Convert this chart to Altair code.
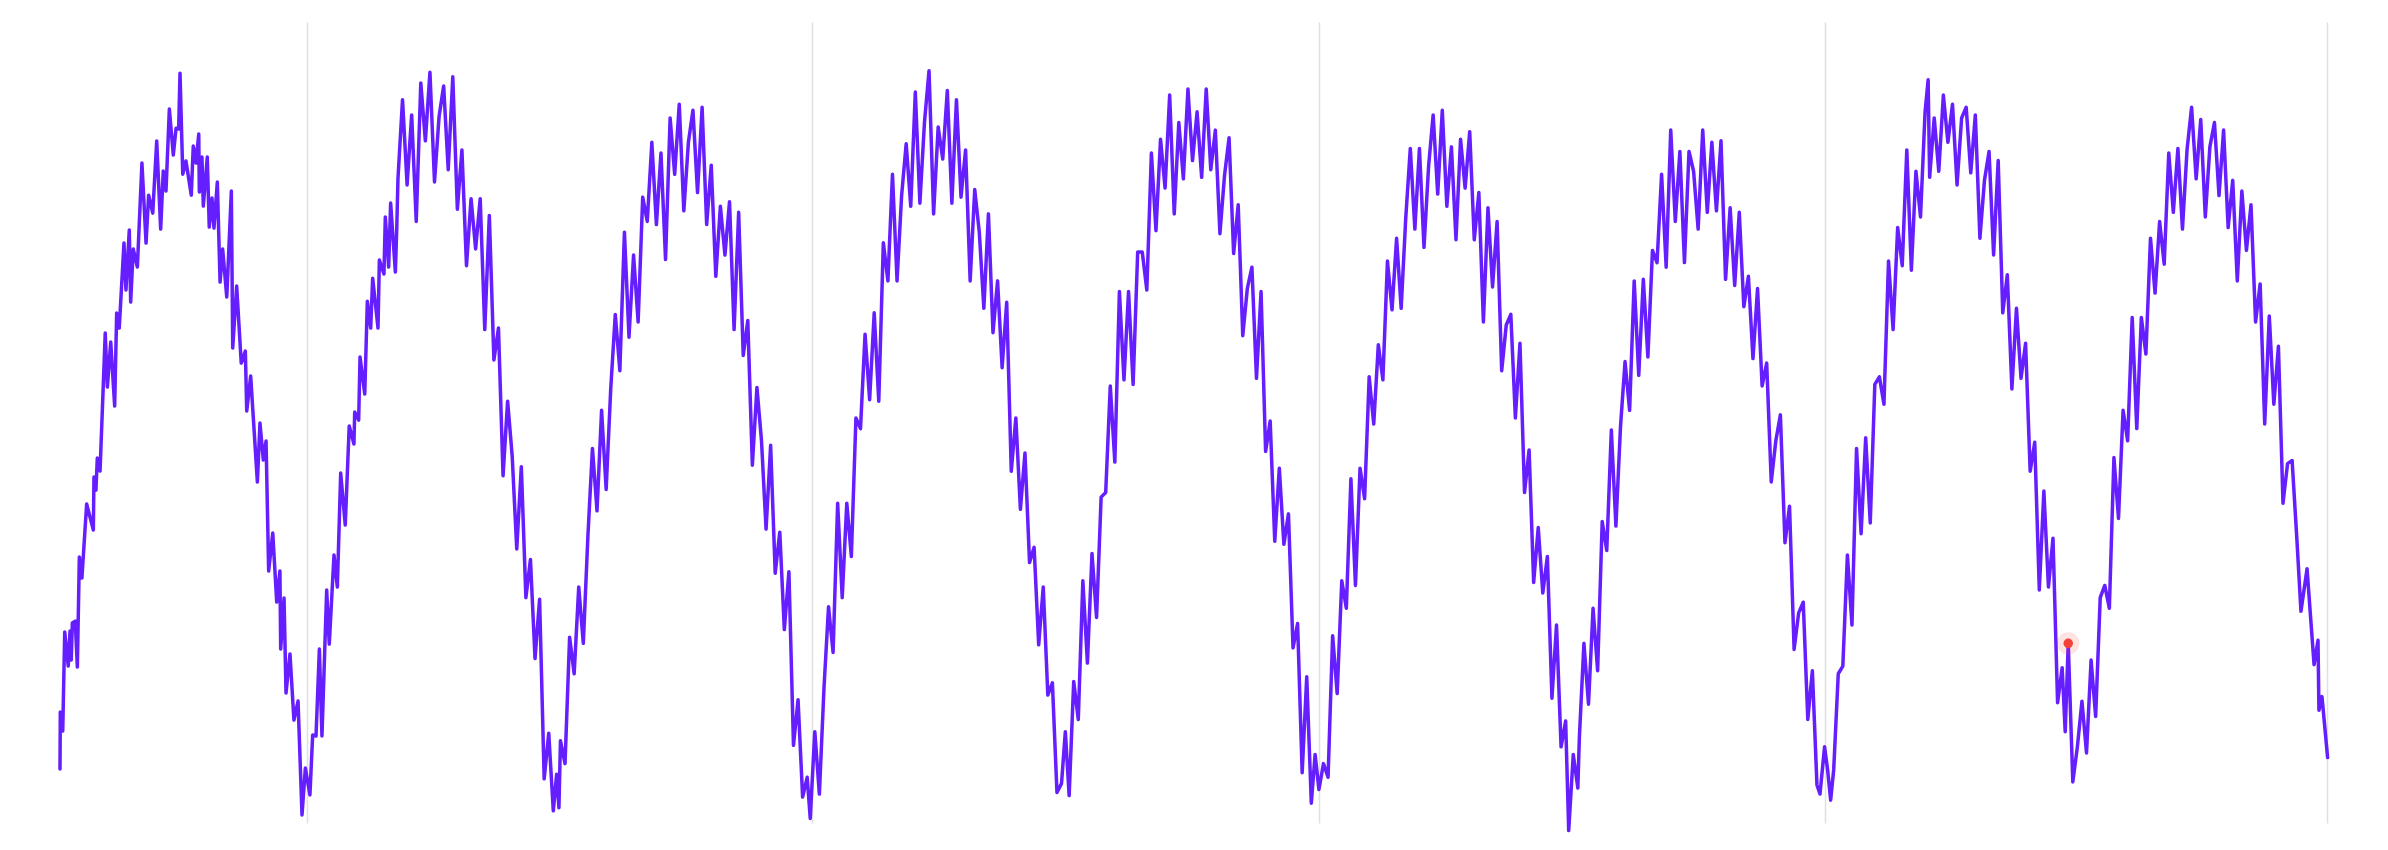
import altair as alt
import pandas as pd

# first cycle, read at full resolution: position t and value v
t_first = [39.4, 39.6, 41.2, 42.5, 44.8, 46.0, 46.8, 47.5, 49.4, 50.8, 52.1, 53.8, 56.9, 61.3, 61.7, 63.0,
           63.9, 65.7, 69.1, 70.5, 72.7, 75.3, 76.6, 78.3, 81.4, 82.7, 84.9, 85.8, 87.5, 90.2, 93.2, 95.9,
           97.6, 100.3, 102.9, 105.5, 107.2, 109.0, 111.2, 113.8, 115.6, 117.3, 118.2, 120.0, 122.1, 125.6,
           126.9, 128.7, 130.5, 130.9, 132.6, 133.5, 136.1, 137.4, 139.2, 140.5, 142.7, 144.5, 146.2, 148.9,
           151.9, 152.8, 155.4, 158.4, 161.1, 162.0, 164.6, 169.0, 170.7, 172.9, 174.7, 176.4, 179.1, 181.7,
           183.8, 184.3, 186.5, 187.8, 190.4, 193.0, 195.7, 198.3, 200.5, 203.5, 205.3, 207.5, 209.7, 211.4,
           214.5, 216.2, 219.3, 221.5, 223.7, 226.7, 229.3, 232.4, 232.9, 235.5, 236.4, 239.5, 241.2, 243.4,
           244.7, 248.2, 249.1, 252.1, 253.0, 255.2, 256.5, 259.6, 260.5]
v_first = [35.5, 72.9, 60.4, 125.4, 103.1, 126.1, 107.0, 131.3, 132.6, 102.4, 174.7, 160.9, 209.5, 192.4,
           227.2, 218.6, 239.7, 231.1, 321.7, 286.3, 315.8, 273.8, 334.9, 325.0, 380.8, 350.0, 389.4, 342.1,
           376.9, 365.1, 433.4, 380.8, 412.3, 400.5, 447.8, 390.0, 428.1, 415.0, 468.8, 438.6, 456.3, 455.7,
           492.4, 426.1, 434.7, 412.3, 444.5, 433.4, 452.4, 414.3, 437.3, 405.1, 437.3, 391.3, 410.4, 390.7,
           420.9, 355.2, 376.9, 345.4, 415.0, 311.9, 352.6, 302.0, 309.9, 270.5, 293.5, 223.9, 262.6, 238.3,
           250.8, 165.5, 190.4, 145.1, 165.5, 114.2, 147.7, 85.4, 111.0, 67.6, 80.1, 5.3, 36.1, 18.4, 57.8,
           57.1, 114.2, 57.1, 153.0, 117.5, 176.0, 155.0, 229.8, 195.7, 260.7, 248.9, 269.9, 264.6, 306.0,
           281.7, 342.7, 325.0, 357.8, 325.0, 369.7, 360.5, 397.9, 365.1, 407.1, 361.8, 390.0]

# later cycles as (t, v) pairs
cycle2 = [(261.3, 423), (264.3, 475), (267.3, 419), (270.3, 465), (273.3, 395), (276.3, 486), (279.3, 448),
          (282.3, 493), (285.3, 421), (288.3, 464), (291.3, 484), (294.3, 429), (297.3, 490), (300.3, 403),
          (303.3, 442), (306.3, 366), (309.3, 410), (312.3, 377), (315.3, 410), (318.3, 324), (321.3, 399),
          (324.3, 304), (327.3, 325), (330.3, 228), (333.3, 277), (336.3, 241), (339.3, 180), (342.3, 234),
          (345.3, 148), (348.3, 173), (351.3, 108), (354.3, 147), (357.3, 29), (360.3, 59), (363.3, 8),
          (365.5, 32), (367, 10)]
cycle3 = [(368, 54), (371, 39), (374, 122), (377, 98), (380, 155), (383, 118), (386, 188), (389, 246),
          (392, 205), (395, 271), (398, 219), (401, 285), (404, 334), (407, 297), (410, 388), (413, 319),
          (416, 373), (419, 329), (422, 411), (425, 395), (428, 447), (431, 393), (434, 440), (437, 370),
          (440, 463), (443, 426), (446, 472), (449, 402), (452, 447), (455, 468), (458, 414), (461, 470),
          (464, 393), (467, 432), (470, 359), (473, 405), (476, 373), (479, 408), (482, 324), (485, 401),
          (488, 307), (491, 330), (494, 235), (497, 286), (500, 251), (503, 193), (506, 248), (509, 164),
          (512, 191), (515, 127), (518, 165), (521, 51), (524, 81), (527, 17), (530, 30), (532, 3)]
cycle4 = [(535, 60), (538, 19), (541, 88), (544, 142), (547, 112), (550, 210), (553, 148), (556, 210),
          (559, 175), (562, 266), (565, 259), (568, 321), (571, 278), (574, 335), (577, 277), (580, 381),
          (583, 356), (586, 426), (589, 356), (592, 412), (595, 446), (598, 405), (601, 480), (604, 407),
          (607, 460), (610, 494), (613, 400), (616, 457), (619, 436), (622, 481), (625, 407), (628, 475),
          (631, 411), (634, 442), (637, 356), (640, 416), (643, 388), (646, 338), (649, 400), (652, 322),
          (655, 356), (658, 299), (661, 342), (664, 231), (667, 266), (670, 206), (673, 243), (676, 171),
          (679, 181), (682, 117), (685, 155), (688, 84), (691, 92), (694, 20), (697, 26), (699.5, 60), (702, 18)]
cycle5 = [(705, 93), (708, 68), (711, 159), (714, 105), (717, 177), (720, 135), (723, 214), (726, 217),
          (729, 287), (732, 237), (735, 349), (738, 291), (741, 349), (744, 288), (747, 375), (750, 375),
          (753, 350), (756, 440), (759, 389), (762, 449), (765, 417), (768, 478), (771, 400), (774, 460),
          (777, 423), (780, 482), (783, 435), (786, 467), (789, 424), (792, 482), (795, 429), (798, 455),
          (801, 387), (804, 425), (807, 450), (810, 374), (813, 406), (816, 320), (819, 351), (822, 365),
          (825, 292), (828, 349), (831, 244), (834, 264), (837, 185), (840, 233), (843, 183), (846, 203),
          (849, 115), (852, 131), (855, 33), (858, 96), (861, 13), (863.5, 45), (866, 22)]
cycle6 = [(869, 39), (872, 30), (875, 123), (878, 85), (881, 159), (884, 141), (887, 226), (890, 156),
          (893, 233), (896, 213), (899, 293), (902, 262), (905, 314), (908, 291), (911, 369), (914, 337),
          (917, 384), (920, 338), (923, 397), (926, 443), (929, 390), (932, 443), (935, 378), (938, 431),
          (941, 465), (944, 413), (947, 468), (950, 405), (953, 444), (956, 383), (959, 449), (962, 417),
          (965, 454), (968, 383), (971, 414), (974, 329), (977, 404), (980, 352), (983, 395), (986, 297),
          (989, 327), (992, 334), (995, 266), (998, 315), (1001, 217), (1004, 245), (1007, 158), (1010, 194),
          (1013, 151), (1016, 175), (1019, 82), (1022, 130), (1025, 50), (1028, 67), (1030, -5), (1033, 45),
          (1036, 23)]
cycle7 = [(1037, 56), (1040, 118), (1043, 78), (1046, 141), (1049, 100), (1052, 198), (1055, 179),
          (1058, 258), (1061, 195), (1064, 260), (1067, 303), (1070, 271), (1073, 356), (1076, 294),
          (1079, 357), (1082, 306), (1085, 376), (1088, 368), (1091, 426), (1094, 365), (1097, 455),
          (1100, 395), (1103, 441), (1106, 368), (1109, 441), (1112, 428), (1115, 390), (1118, 455),
          (1121, 401), (1124, 447), (1127, 402), (1130, 448), (1133, 357), (1136, 404), (1139, 353),
          (1142, 401), (1145, 339), (1148, 359), (1151, 305), (1154, 351), (1157, 287), (1160, 302),
          (1163, 224), (1166, 251), (1169, 268), (1172, 184), (1175, 208), (1178, 114), (1181, 138),
          (1184, 145), (1187, 68), (1190, 100), (1193, 25), (1195, 19), (1198, 50), (1200, 35), (1202, 15)]
cycle8 = [(1204, 35), (1207, 98), (1210, 103), (1213, 176), (1216, 130), (1219, 246), (1222, 190),
          (1225, 253), (1228, 197), (1231, 288), (1234, 293), (1237, 275), (1240, 369), (1243, 324),
          (1246, 391), (1249, 366), (1252, 442), (1255, 363), (1258, 428), (1261, 398), (1264, 467),
          (1266, 488), (1267, 424), (1270, 463), (1273, 428), (1276, 478), (1279, 447), (1282, 472),
          (1285, 419), (1288, 463), (1291, 470), (1294, 427), (1297, 465), (1300, 384), (1303, 422),
          (1306, 441), (1309, 373), (1312, 435), (1315, 335), (1318, 360), (1321, 285), (1324, 338),
          (1327, 292), (1330, 315), (1333, 231), (1336, 250), (1339, 153), (1342, 218), (1345, 155),
          (1348, 187), (1351, 79), (1354, 102), (1356, 60), (1358, 118), (1361, 27)]
cycle9 = [(1364, 50), (1367, 80), (1370, 46), (1373, 107), (1376, 70), (1379, 148), (1382, 156), (1385, 141),
          (1388, 240), (1391, 200), (1394, 271), (1397, 251), (1400, 332), (1403, 259), (1406, 332),
          (1409, 308), (1412, 384), (1415, 348), (1418, 395), (1421, 367), (1424, 440), (1427, 401),
          (1430, 443), (1433, 390), (1436, 442), (1439, 470), (1442, 423), (1445, 462), (1448, 398),
          (1451, 444), (1454, 460), (1457, 412), (1460, 455), (1463, 391), (1466, 422), (1469, 356),
          (1472, 415), (1475, 376), (1478, 406), (1481, 329), (1484, 354), (1487, 262), (1490, 333),
          (1493, 275), (1496, 313), (1499, 210), (1502, 236), (1505, 238), (1508.2, 185), (1510.8, 139),
          (1514.8, 167), (1519.4, 104), (1522.0, 120), (1522.6, 74), (1524.6, 83), (1528.3, 43)]

grid_at = [201.4, 533.2, 866.1, 1198.3, 1527.9]

hl_t = [1358]
hl_v = [118]

n = min(len(t_first), len(v_first))
rows = [{"t": t_first[i], "v": v_first[i]} for i in range(n)]
for cyc in (cycle2, cycle3, cycle4, cycle5, cycle6, cycle7, cycle8, cycle9):
    rows += [{"t": a, "v": b} for a, b in cyc]
df = pd.DataFrame(rows)
hl = pd.DataFrame({"t": hl_t, "v": hl_v})

xs = alt.Scale(domain=[39.4, 1527.9], nice=False, zero=False)
ys = alt.Scale(domain=[0, 526], nice=False, zero=False)

line = alt.Chart(df).mark_line(color="#651fff", strokeWidth=3.5, strokeJoin="round", strokeCap="round").encode(
    x=alt.X("t:Q", scale=xs, axis=alt.Axis(values=grid_at, grid=True, labels=False, ticks=False,
                                           domain=False, title=None, gridColor="#e0e0e0", gridWidth=1.5)),
    y=alt.Y("v:Q", scale=ys, axis=None),
    order="t:Q",
)

halo = alt.Chart(hl).mark_circle(color="#f44336", opacity=0.15, size=500).encode(
    x=alt.X("t:Q", scale=xs), y=alt.Y("v:Q", scale=ys))
dot = alt.Chart(hl).mark_circle(color="#f44336", opacity=1, size=90).encode(
    x=alt.X("t:Q", scale=xs), y=alt.Y("v:Q", scale=ys))

chart = (line + halo + dot).properties(
    width=2267, height=801,
    autosize=alt.AutoSizeParams(type="none"),
    padding={"left": 52, "top": 14, "right": 40, "bottom": 20},
).configure_view(stroke=None)

chart.save("out.html", embed_options={"renderer": "svg", "actions": False})
